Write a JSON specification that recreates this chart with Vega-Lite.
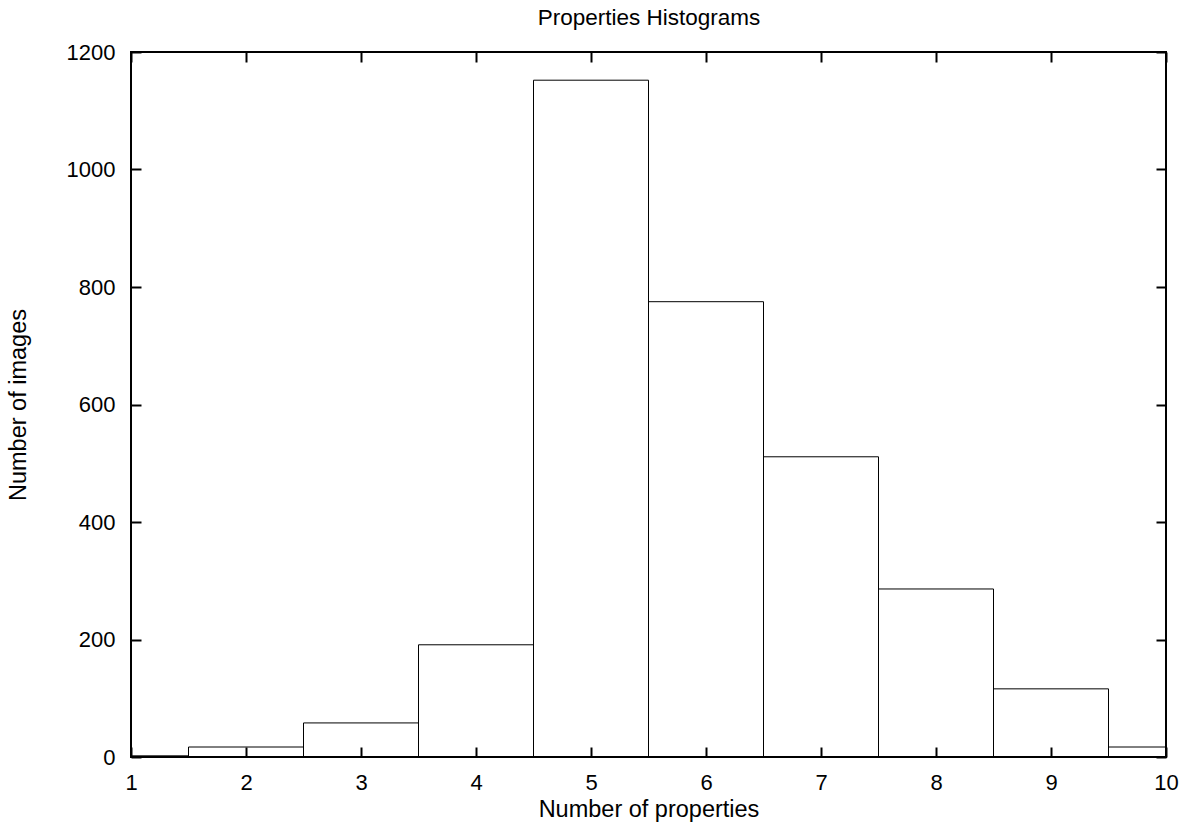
{
  "$schema": "https://vega.github.io/schema/vega-lite/v6.json",
  "autosize": "none",
  "padding": {"left": 131, "top": 52, "right": 22, "bottom": 73},
  "width": 1035,
  "height": 705,
  "background": "white",
  "data": {"values": [
    {"start": 0.5, "end": 1.5, "count": 2},
    {"start": 1.5, "end": 2.5, "count": 17},
    {"start": 2.5, "end": 3.5, "count": 58},
    {"start": 3.5, "end": 4.5, "count": 191},
    {"start": 4.5, "end": 5.5, "count": 1152},
    {"start": 5.5, "end": 6.5, "count": 775},
    {"start": 6.5, "end": 7.5, "count": 511},
    {"start": 7.5, "end": 8.5, "count": 286},
    {"start": 8.5, "end": 9.5, "count": 116},
    {"start": 9.5, "end": 10.5, "count": 17}
  ]},
  "config": {
    "view": {"stroke": "#000", "strokeWidth": 2},
    "axis": {"domain": false, "grid": false, "tickColor": "#000", "tickWidth": 2, "tickSize": -10, "labelFont": "Liberation Sans", "labelFontSize": 22, "labelColor": "#000", "titleFont": "Liberation Sans", "titleFontSize": 23.5, "titleFontWeight": "normal", "titleColor": "#000"}
  },
  "layer": [
    {
      "mark": {"type": "rect", "clip": true, "fill": "transparent", "stroke": "#000", "strokeWidth": 1},
      "encoding": {
        "x": {"field": "start", "type": "quantitative", "scale": {"domain": [1, 10], "nice": false, "zero": false},
          "axis": {"orient": "bottom", "values": [1,2,3,4,5,6,7,8,9,10], "format": "d", "title": "Number of properties", "labelBaseline": "alphabetic", "labelPadding": 42, "labelFlush": false, "titleX": 517.5, "titleY": 59, "titleBaseline": "alphabetic", "titleAnchor": null}},
        "x2": {"field": "end"},
        "y": {"field": "count", "type": "quantitative", "scale": {"domain": [0, 1200], "nice": false},
          "axis": {"orient": "left", "values": [0,200,400,600,800,1000,1200], "format": "d", "title": "Number of images", "labelAlign": "right", "labelBaseline": "middle", "labelPadding": 26, "labelFlush": false, "titleX": -113, "titleY": 352.5, "titleAngle": -90, "titleBaseline": "middle", "titleAlign": "center"}},
        "y2": {"datum": 0}
      }
    },
    {
      "mark": {"type": "rect", "opacity": 0},
      "encoding": {
        "x": {"field": "start", "type": "quantitative",
          "axis": {"orient": "top", "values": [1,2,3,4,5,6,7,8,9,10], "labels": false, "title": "Properties Histograms", "titleFontSize": 22.5, "titleX": 517.5, "titleY": -28, "titleBaseline": "alphabetic", "titleAlign": "center", "titleAnchor": null}},
        "x2": {"field": "end"},
        "y": {"field": "count", "type": "quantitative", "axis": {"orient": "right", "values": [0,200,400,600,800,1000,1200], "labels": false, "title": null}},
        "y2": {"datum": 0}
      }
    }
  ],
  "resolve": {"axis": {"x": "independent", "y": "independent"}}
}
